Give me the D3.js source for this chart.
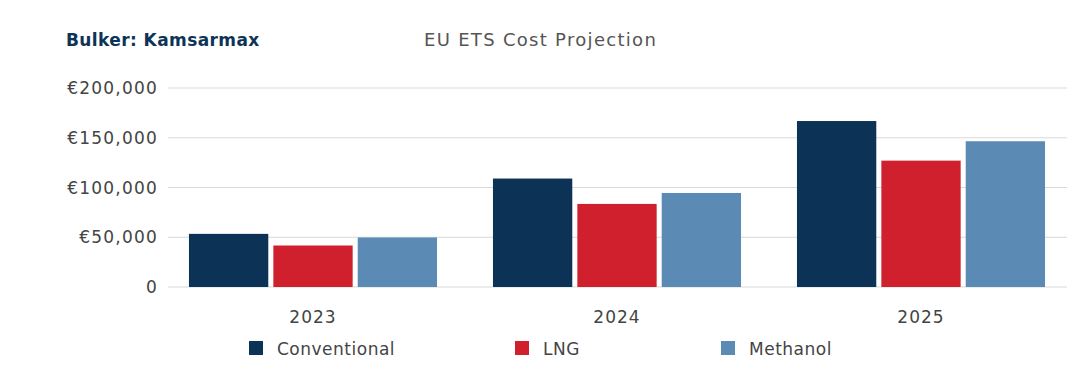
<!DOCTYPE html>
<html>
<head>
<meta charset="utf-8">
<script src="https://cdn.jsdelivr.net/npm/d3@7"></script>
<style>
  body { margin: 0; background: #fff; }
  text { font-family: "DejaVu Sans", sans-serif; }
</style>
</head>
<body>
<div id="chart"></div>
<script>
const years = ["2023", "2024", "2025"];
const seriesNames = ["Conventional", "LNG", "Methanol"];
const conventional = [53400, 109000, 166800];
const lng = [41700, 83500, 127000];
const methanol = [49800, 94500, 146500];
const yTicks = [0, 50000, 100000, 150000, 200000];
const colors = ["#0c3256", "#d0202e", "#5b8ab5"];

const seriesValues = [conventional, lng, methanol];
const data = years.map((y, i) => ({
    year: y,
    values: seriesNames.map((s, j) => ({ key: s, value: seriesValues[j][i] }))
}));

const width = 1080;
const height = 372;

const svg = d3.select("#chart").append("svg").attr("width", width).attr("height", height);

const yScale = d3.scaleLinear().domain([0, 200000]).range([287, 88]);
const xScale = d3.scaleBand().domain(years).range([161, 1073]).paddingInner(0.184).paddingOuter(0.092);
const xInner = d3.scaleBand().domain(seriesNames).range([0, xScale.bandwidth()]).paddingInner(0.06);

// gridlines
svg.append("g").selectAll("line").data(yTicks).enter().append("line")
    .attr("x1", 168).attr("x2", 1067)
    .attr("y1", d => yScale(d)).attr("y2", d => yScale(d))
    .attr("stroke", "#d9d9d9").attr("stroke-width", 1.2);

// y labels
const fmt = d3.format(",");
svg.append("g").selectAll("text").data(yTicks).enter().append("text")
    .attr("x", 158).attr("y", d => yScale(d) + 6)
    .attr("text-anchor", "end").attr("font-size", 17).attr("fill", "#444")
    .attr("letter-spacing", 1.2)
    .text(d => d === 0 ? "0" : "€" + fmt(d));

// bars
const groups = svg.append("g").selectAll("g").data(data).enter().append("g")
    .attr("transform", d => `translate(${xScale(d.year)},0)`);
groups.selectAll("rect").data(d => d.values).enter().append("rect")
    .attr("x", d => xInner(d.key)).attr("y", d => yScale(d.value))
    .attr("width", xInner.bandwidth()).attr("height", d => yScale(0) - yScale(d.value))
    .attr("fill", (d, i) => colors[i]);

// x labels
svg.append("g").selectAll("text").data(years).enter().append("text")
    .attr("x", d => xScale(d) + xScale.bandwidth() / 2).attr("y", 323)
    .attr("text-anchor", "middle").attr("font-size", 17).attr("fill", "#444")
    .attr("letter-spacing", 1)
    .text(d => d);

// titles
svg.append("text").attr("x", 66).attr("y", 46).attr("font-size", 17).attr("font-weight", "bold")
    .attr("letter-spacing", 0.4)
    .attr("fill", "#0d3457").text("Bulker: Kamsarmax");
svg.append("text").attr("x", 424).attr("y", 46).attr("font-size", 18).attr("fill", "#555")
    .attr("letter-spacing", 1.3)
    .text("EU ETS Cost Projection");

// legend
const legendX = [249, 515, 721];
const legend = svg.append("g").selectAll("g").data(seriesNames).enter().append("g")
    .attr("transform", (d, i) => `translate(${legendX[i]},341)`);
legend.append("rect").attr("width", 14).attr("height", 14).attr("fill", (d, i) => colors[i]);
legend.append("text").attr("x", 28).attr("y", 14)
    .attr("font-size", 17).attr("letter-spacing", 0.5).attr("fill", "#444").text(d => d);
</script>
</body>
</html>
